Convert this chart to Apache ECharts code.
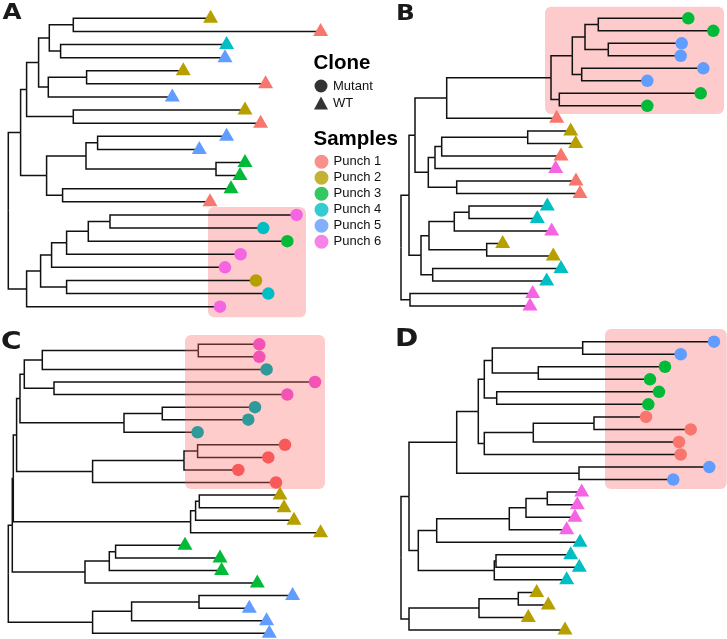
<!DOCTYPE html>
<html>
<head>
<meta charset="utf-8">
<script src="https://cdn.jsdelivr.net/npm/echarts@6/dist/echarts.min.js"></script>
<style>html,body{margin:0;padding:0;background:#fff;}#c{width:727px;height:639px;}</style>
</head>
<body>
<div id="c"></div>
<script>
// Trees: internal node = [depth, child, child]; tip = depth (branch length from root)
const treeA = [0,
  [12.3,
    [18.3,
      [30.3,
        [41, [65, 202.3, 312.3], [52.3, 218.3, 216.7]],
        [40, [78.3, 175, 257.3], 164]],
      [65, 236.7, 252.3]],
    [38.3,
      [77.7, [89.3, 218.3, 191], [207.7, 236.7, 231.7]],
      [54.3, 222.7, 201.7]]],
  [18.3,
    [32.3,
      [43.3, [58.3, [80, [101.7, 288.3, 255], 279], 232.3], 216.7],
      [58.3, 247.7, 260]],
    211.7]];
const samplesA = [2,1,4,5,2,1,5,2,1,5,5,3,3,3,1,6,4,3,6,6,2,4,6];
const cloneA   = ['W','W','W','W','W','W','W','W','W','W','W','W','W','W','W','M','M','M','M','M','M','M','M'];

const treeB = [0,
  [8,
    [14,
      [45.7,
        [150,
          [171.3,
            [184, [197.3, 287.3, 312.3], [207.3, 280.7, 279.7]],
            [180.7, 302.3, 246.3]],
          [158.3, 299.7, 246.3]],
        155.7],
      [27.3,
        [34, [40.7, [126.7, 169.7, 174.7], 160], 154.7],
        [55.7, 175, 179]]],
    [20,
      [28, [53.3, [68, 146.3, 136.3], 150.7], [85.7, 101.7, 152.3]],
      [31.7, 160, 145.7]]],
  [9, 131.7, 129]];
const samplesB = [3,3,5,5,5,5,3,3,1,2,2,1,6,1,1,4,4,6,2,2,4,4,6,6];
const cloneB   = ['M','M','M','M','M','M','M','M','W','W','W','W','W','W','W','W','W','W','W','W','W','W','W','W'];

const treeC = [0,
  [4,
    [5,
      [8.3,
        [11.7,
          [16,
            [34, [190, 251, 251], 258.3],
            [45.7, 306.7, 279]],
          [115.7, [154, 246.7, 240], 189.3]],
        [84.3, [175.7, [189.3, 276.7, 260], 230], 267.7]],
      [182.3, [187.3, [191, 271.7, 275.7], 285.7], 312.3]],
    [76.7, [101, [107.3, 176.7, 211.7], 213.3], 249]],
  [84.3, [123.3, [190.7, 284.3, 241], 258.3], 261]];
const samplesC = [6,6,4,6,6,4,4,4,1,1,1,1,2,2,2,2,3,3,3,3,5,5,5,5];
const cloneC   = ['M','M','M','M','M','M','M','M','M','M','M','M','W','W','W','W','W','W','W','W','W','W','W','W'];

const treeD = [0,
  [8,
    [55.7,
      [77.3,
        [83.3,
          [91.3, [181.7, 313, 279.7], [137.3, 264, 249]],
          [95.7, 258, 247.3]],
        [83.3, [132.3, [193, 245, 289.7], 278], 279.7]],
      [178, 308.3, 272.3]],
    [17.3,
      [35.7, [108.3, [125, [146.3, 180.7, 176.3], 174], 165.7], 179],
      [93.3, [95, 169.7, 178.3], 165.7]]],
  [8, [78, [117.3, 135.7, 147.3], 127.3], 164]];
const samplesD = [5,5,3,3,3,3,1,1,1,1,5,5,6,6,6,6,4,4,4,4,2,2,2,2];
const cloneD   = ['M','M','M','M','M','M','M','M','M','M','M','M','W','W','W','W','W','W','W','W','W','W','W','W'];

// highlighted (mutant) regions: [depthFrom, depthTo, tipFrom, tipTo]
const rectA = [199.7, 297.7, 15.4, 23.8];
const rectB = [144, 323, 0.07, 8.65];
const rectC = [176.7, 316.7, 0.26, 12.51];
const rectD = [204, 325.7, -0.01, 12.76];

const sampleNames = ['Punch 1','Punch 2','Punch 3','Punch 4','Punch 5','Punch 6'];
const cloneNames = ['Mutant','WT'];
const panelLabels = ['A','B','C','D'];

const palette  = ['#F8766D','#B79F00','#00BA38','#00BFC4','#619CFF','#F564E3'];
const paletteC = ['#F85A5A','#B79F00','#00BA38','#2E9A9A','#619CFF','#F452B4'];

function layout(tree) {
  const tips = [], edges = [];
  let idx = 0;
  function walk(n) {
    if (typeof n === 'number') { idx++; tips.push([n, idx]); return [n, idx]; }
    const d = n[0];
    const kids = n.slice(1).map(walk);
    const y = kids.reduce((s, k) => s + k[1], 0) / kids.length;
    kids.forEach(k => edges.push({coords: [[d, y], [d, k[1]], [k[0], k[1]]]}));
    return [d, y];
  }
  walk(tree);
  return {tips, edges};
}

const panels = [
  {tree: treeA, samples: samplesA, clone: cloneA, rect: rectA, pal: palette,  grid: {left: 8.3, top: 18.3, width: 330, height: 288.4}, xmax: 330, rectTop: false},
  {tree: treeB, samples: samplesB, clone: cloneB, rect: rectB, pal: palette,  grid: {left: 401, top: 18.3, width: 326, height: 287.7}, xmax: 326, rectTop: false},
  {tree: treeC, samples: samplesC, clone: cloneC, rect: rectC, pal: paletteC, grid: {left: 8.3, top: 344.3, width: 330, height: 289}, xmax: 330, rectTop: true},
  {tree: treeD, samples: samplesD, clone: cloneD, rect: rectD, pal: palette,  grid: {left: 401, top: 341.7, width: 326, height: 288.3}, xmax: 326, rectTop: false}
];

const grids = [], xAxes = [], yAxes = [], series = [];
panels.forEach((p, i) => {
  const L = layout(p.tree);
  const n = L.tips.length;
  grids.push(p.grid);
  xAxes.push({type: 'value', gridIndex: i, min: 0, max: p.xmax, show: false});
  yAxes.push({type: 'value', gridIndex: i, min: 1, max: n, inverse: true, show: false});
  series.push({
    type: 'custom', xAxisIndex: i, yAxisIndex: i, silent: true, clip: false,
    z: p.rectTop ? 3 : 1,
    data: [p.rect],
    renderItem: function (params, api) {
      const a = api.coord([api.value(0), api.value(2)]);
      const b = api.coord([api.value(1), api.value(3)]);
      return {type: 'rect',
        shape: {x: Math.min(a[0], b[0]), y: Math.min(a[1], b[1]), width: Math.abs(b[0] - a[0]), height: Math.abs(b[1] - a[1]), r: 6},
        style: {fill: p.rectTop ? 'rgba(255,100,100,0.33)' : '#FDCBCB'}};
    }
  });
  series.push({
    type: 'lines', coordinateSystem: 'cartesian2d', xAxisIndex: i, yAxisIndex: i,
    polyline: true, silent: true, clip: false, z: 2,
    lineStyle: {color: '#111', width: 1.5, opacity: 1},
    data: L.edges
  });
  series.push({
    type: 'scatter', xAxisIndex: i, yAxisIndex: i, silent: true, clip: false, z: 4,
    data: L.tips.map((t, k) => {
      const tri = p.clone[k] === 'W';
      return {
        value: t,
        symbol: tri ? 'triangle' : 'circle',
        symbolSize: tri ? [15, 13] : 12.5,
        symbolOffset: tri ? [0, -2] : [0, 0],
        itemStyle: {color: p.pal[p.samples[k] - 1], opacity: 1}
      };
    })
  });
});

// legend-only series
cloneNames.forEach(nm => series.push({type: 'scatter', name: nm, data: [], itemStyle: {color: '#000'}}));
sampleNames.forEach((nm, k) => series.push({type: 'scatter', name: nm, data: [], itemStyle: {color: palette[k]}}));

const labelPos = [[2.5, 12.8, 22], [396, 14.3, 22], [1, 342.5, 25], [395, 339, 25]];
const graphics = panelLabels.map((t, k) => ({
  type: 'text', x: labelPos[k][0], y: labelPos[k][1], scaleX: 1.12, silent: true,
  style: {text: t, font: 'bold ' + labelPos[k][2] + 'px "DejaVu Sans"', fill: '#1a1a1a', align: 'left', verticalAlign: 'middle'}
}));
graphics.push({type: 'text', x: 313.5, y: 63.5, style: {text: 'Clone', font: 'bold 20.5px "Liberation Sans"', fill: '#000', verticalAlign: 'middle'}});
graphics.push({type: 'text', x: 313.5, y: 139.5, style: {text: 'Samples', font: 'bold 20.5px "Liberation Sans"', fill: '#000', verticalAlign: 'middle'}});

const chart = echarts.init(document.getElementById('c'), null, {renderer: 'canvas'});
chart.setOption({
  animation: false,
  backgroundColor: '#fff',
  grid: grids,
  xAxis: xAxes,
  yAxis: yAxes,
  legend: [
    {data: [{name: 'Mutant', icon: 'circle'}, {name: 'WT', icon: 'triangle'}],
     orient: 'vertical', left: 314, top: 79.5, padding: 0, itemWidth: 14, itemHeight: 13, itemGap: 4,
     selectedMode: false, textStyle: {fontFamily: 'Liberation Sans', fontSize: 13, color: '#111'}},
    {data: sampleNames.map(n => ({name: n, icon: 'circle'})),
     orient: 'vertical', left: 314.5, top: 154.7, padding: 0, itemWidth: 14, itemHeight: 14, itemGap: 2,
     selectedMode: false, textStyle: {fontFamily: 'Liberation Sans', fontSize: 13, color: '#111'}}
  ],
  graphic: graphics,
  series: series
});
</script>
</body>
</html>
